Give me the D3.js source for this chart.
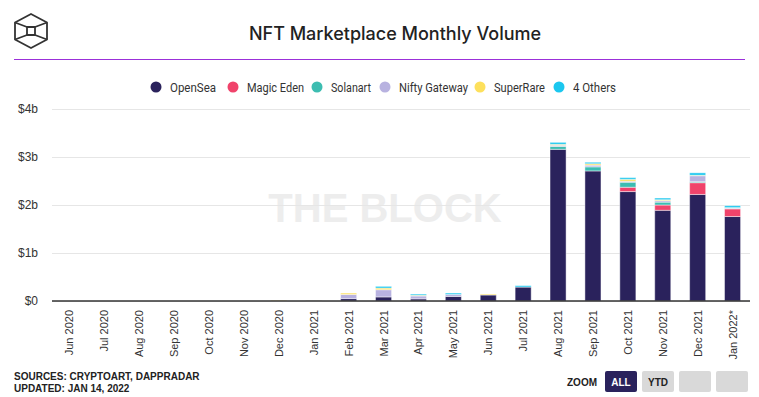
<!DOCTYPE html>
<html><head><meta charset="utf-8">
<script src="https://cdn.jsdelivr.net/npm/d3@7/dist/d3.min.js"></script>
<style>
html,body{margin:0;padding:0;background:#fff;}
svg{display:block;}
</style></head>
<body>
<svg id="chart" width="759" height="397"></svg>
<script>
const months = ["Jun 2020","Jul 2020","Aug 2020","Sep 2020","Oct 2020","Nov 2020","Dec 2020","Jan 2021","Feb 2021","Mar 2021","Apr 2021","May 2021","Jun 2021","Jul 2021","Aug 2021","Sep 2021","Oct 2021","Nov 2021","Dec 2021","Jan 2022*"];
const seriesNames = ["OpenSea","Magic Eden","Solanart","Nifty Gateway","SuperRare","4 Others"];
const seriesColors = ["#2a225c","#f0436b","#3dbdb1","#b8b2e0","#fde05c","#1bc7ef"];
// values in $ billions
const openSea     = [0,0,0,0,0,0,0,0.004,0.05,0.085,0.045,0.095,0.125,0.29,3.16,2.71,2.28,1.89,2.22,1.76];
const magicEden   = [0,0,0,0,0,0,0,0,0,0,0,0,0,0,0,0,0.09,0.11,0.245,0.16];
const solanart    = [0,0,0,0,0,0,0,0,0,0,0,0,0,0,0.06,0.085,0.105,0.06,0.02,0.01];
const niftyGateway= [0,0,0,0,0,0,0.002,0.01,0.085,0.15,0.06,0.04,0,0,0.025,0.035,0.02,0.03,0.125,0.01];
const superRare   = [0,0,0,0,0,0,0.012,0.003,0.03,0.035,0.015,0,0.02,0,0.02,0.03,0.04,0.02,0.01,0.005];
const others      = [0,0,0,0,0,0,0,0,0,0.035,0.025,0.03,0,0.03,0.04,0.03,0.035,0.035,0.05,0.04];
const yTicks = [0,1,2,3,4];
const yTickLabels = ["$0","$1b","$2b","$3b","$4b"];

const allSeries = [openSea,magicEden,solanart,niftyGateway,superRare,others];
const table = months.map((m,i)=>{const o={month:m};seriesNames.forEach((s,k)=>o[s]=allSeries[k][i]);return o;});

const svg = d3.select("#chart");
const pLeft=52, pRight=750, pTop=109, pBottom=301;

// logo
const logo = svg.append("g").attr("fill","none").attr("stroke","#333").attr("stroke-width",1.8).attr("stroke-linejoin","round");
logo.append("path").attr("d","M31,14 L47,22.5 L47,39.5 L31,48 L15,39.5 L15,22.5 Z");
logo.append("path").attr("d","M27,27 L35,27 L35,35 L27,35 Z");
logo.append("path").attr("d","M15,22.5 L27,27 M47,22.5 L35,27 M47,39.5 L35,35 M15,39.5 L27,35");
svg.append("line").attr("x1",14).attr("x2",745).attr("y1",59.5).attr("y2",59.5).attr("stroke","#9b30d9").attr("stroke-width",1);

// title
svg.append("text").attr("x",395).attr("y",40).attr("text-anchor","middle")
  .attr("font-family","Inter, 'Noto Sans', sans-serif").attr("font-size",18).attr("font-weight",500).attr("fill","#222")
  .text("NFT Marketplace Monthly Volume");

// legend
const legendX = [156,233,317,385,480,559];
const legendW = [46,57,40,69,51,43];
const lg = svg.append("g");
seriesNames.forEach((s,k)=>{
  lg.append("circle").attr("cx",legendX[k]).attr("cy",87).attr("r",5.5).attr("fill",seriesColors[k]);
  lg.append("text").attr("x",legendX[k]+14).attr("y",91.5).attr("font-family","Roboto, Inter, sans-serif")
    .attr("font-size",12).attr("fill","#333").attr("textLength",legendW[k]).attr("lengthAdjust","spacingAndGlyphs").text(s);
});

const x = d3.scaleBand().domain(months).range([pLeft,pRight]).paddingInner(0.54).paddingOuter(0.27);
const y = d3.scaleLinear().domain([0,4]).range([pBottom,pTop]);

// watermark
svg.append("text").attr("x",385).attr("y",222).attr("text-anchor","middle")
  .attr("font-family","'Liberation Sans', Arial, sans-serif").attr("font-weight","bold").attr("font-size",40)
  .attr("fill","#ededed").text("THE BLOCK");

// grid
const yAxis = d3.axisLeft(y).tickValues(yTicks).tickFormat((d,i)=>yTickLabels[i]).tickSize(-(pRight-pLeft)).tickPadding(14);
const ga = svg.append("g").attr("transform",`translate(${pLeft},0)`).call(yAxis);
ga.select(".domain").remove();
ga.selectAll(".tick line").attr("stroke","#e6e6e6");
ga.selectAll(".tick text").attr("font-family","'Liberation Sans', Arial, sans-serif").attr("font-size",12).attr("fill","#333");

// bars
const stack = d3.stack().keys(seriesNames)(table);
const bars = svg.append("g");
stack.forEach((layer,k)=>{
  bars.selectAll(null).data(layer).enter().append("rect")
    .attr("x",d=>x(d.data.month))
    .attr("width",x.bandwidth())
    .attr("y",d=>y(d[1]))
    .attr("height",d=>Math.max(0,y(d[0])-y(d[1])))
    .attr("fill",seriesColors[k])
    .attr("stroke","rgba(255,255,255,0.45)").attr("stroke-width",1);
});

// x axis
const xAxis = d3.axisBottom(x).tickSize(0).tickPadding(0);
const gx = svg.append("g").attr("transform",`translate(0,${pBottom})`).call(xAxis);
gx.select(".domain").attr("stroke","#333").attr("stroke-width",1.5).attr("d",`M${pLeft},0H${pRight}`);
gx.selectAll(".tick text").attr("font-family","'Liberation Sans', Arial, sans-serif").attr("font-size",11).attr("fill","#333")
  .attr("text-anchor","end").attr("dy",0).attr("transform","translate(4,9) rotate(-90)");

// footer
const ft = svg.append("g").attr("font-family","'Liberation Sans', Arial, sans-serif").attr("font-weight","bold").attr("font-size",10).attr("fill","#222");
ft.append("text").attr("x",14).attr("y",380).text("SOURCES: CRYPTOART, DAPPRADAR");
ft.append("text").attr("x",14).attr("y",392).text("UPDATED: JAN 14, 2022");

// zoom buttons
const btnLabels = ["ALL","YTD","",""];
const btnX = [605,642,679,716];
ft.append("text").attr("x",567).attr("y",385.5).text("ZOOM");
btnLabels.forEach((b,i)=>{
  svg.append("rect").attr("x",btnX[i]).attr("y",371).attr("width",32).attr("height",21).attr("rx",2)
    .attr("fill",i===0?"#2a225c":"#d9d9d9");
  svg.append("text").attr("x",btnX[i]+16).attr("y",385.5).attr("text-anchor","middle")
    .attr("font-family","'Liberation Sans', Arial, sans-serif").attr("font-weight","bold").attr("font-size",10)
    .attr("fill",i===0?"#fff":"#222").text(b);
});
</script>
</body></html>
